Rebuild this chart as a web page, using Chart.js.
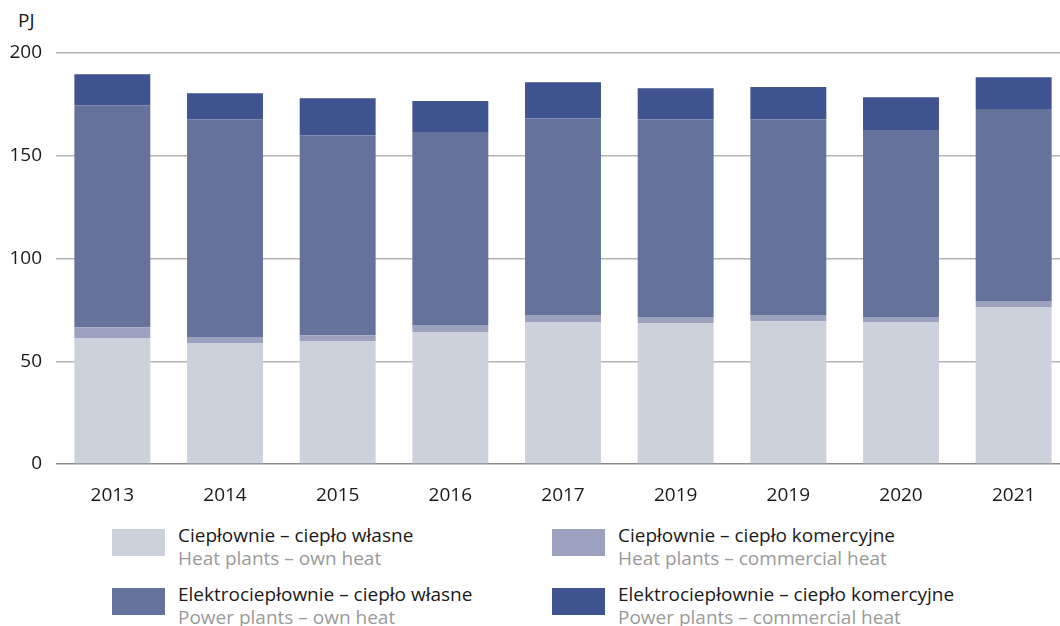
<!DOCTYPE html>
<html>
<head>
<meta charset="utf-8">
<script src="https://cdn.jsdelivr.net/npm/chart.js@4.4.1/dist/chart.umd.min.js"></script>
<style>
	html, body { margin: 0; padding: 0; background: #fff; overflow: hidden; }
	body { width: 1060px; height: 626px; position: relative; font-family: 'Open Sans', sans-serif; }
	#wrap { position: absolute; left: 0; top: 0; width: 1072px; height: 510px; }
	#unit { position: absolute; left: 18px; top: 7px; font-size: 19px; color: #1a1a1a; }
	#legend { position: absolute; left: 112px; top: 529px; display: grid; grid-template-columns: 440px 440px; row-gap: 32px; }
	.item { position: relative; height: 27px; }
	.box { position: absolute; left: 0; top: 0; width: 53px; height: 27px; }
	.txt { position: absolute; left: 66px; top: -5px; white-space: nowrap; font-size: 19px; line-height: 23px; }
	.pl { color: #1a1a1a; }
	.en { color: #9a9a9a; }
</style>
</head>
<body>
<div id="unit">PJ</div>
<div id="wrap"><canvas id="myChart"></canvas></div>
<div id="legend"></div>
<script>
const years = [ '2013', '2014', '2015', '2016', '2017', '2019', '2019', '2020', '2021' ];
const heatOwn = [ 61.3, 58.9, 59.8, 64.2, 69.1, 68.6, 69.6, 69.1, 76.4 ];
const heatCommercial = [ 5.3, 2.9, 2.9, 3.4, 3.4, 2.9, 2.9, 2.4, 2.9 ];
const powerOwn = [ 108.0, 106.0, 97.3, 93.9, 95.8, 96.3, 95.3, 91.0, 93.4 ];
const powerCommercial = [ 15.1, 12.6, 18.0, 15.1, 17.5, 15.1, 15.6, 16.0, 15.5 ];
const yTicks = [ 0, 50, 100, 150, 200 ];

const labelsPl = [
	'Ciepłownie – ciepło własne',
	'Ciepłownie – ciepło komercyjne',
	'Elektrociepłownie – ciepło własne',
	'Elektrociepłownie – ciepło komercyjne'
];
const labelsEn = [
	'Heat plants – own heat',
	'Heat plants – commercial heat',
	'Power plants – own heat',
	'Power plants – commercial heat'
];
const colors = [ '#cdd1dc', '#9ca1bd', '#65729c', '#3e538f' ];
const series = [ heatOwn, heatCommercial, powerOwn, powerCommercial ];

Chart.defaults.font.family = "'Open Sans', sans-serif";
Chart.defaults.font.size = 19;
Chart.defaults.color = '#1a1a1a';

const ctx = document.getElementById('myChart').getContext('2d');

const chart = new Chart(ctx, {
	type: 'bar',
	data: {
		labels: years,
		datasets: series.map((d, i) => ({
			label: labelsPl[i],
			data: d,
			backgroundColor: colors[i],
			borderWidth: 0,
			barPercentage: 0.674,
			categoryPercentage: 1
		}))
	},
	options: {
		responsive: true,
		maintainAspectRatio: false,
		animation: false,
		layout: {
			padding: { top: 53, left: 10, right: 2, bottom: 0 }
		},
		plugins: {
			legend: { display: false },
			tooltip: { enabled: false }
		},
		scales: {
			x: {
				stacked: true,
				grid: { display: false },
				border: { display: false },
				ticks: { padding: 12 },
				afterFit: (scale) => { scale.height = 46; }
			},
			y: {
				stacked: true,
				min: 0,
				max: 200,
				afterBuildTicks: (scale) => { scale.ticks = yTicks.map(v => ({ value: v })); },
				grid: {
					drawTicks: false,
					lineWidth: 1.5,
					color: (c) => c.tick && c.tick.value === 0 ? '#8a8a8a' : '#b4b4b4'
				},
				border: { display: false },
				ticks: { padding: 14 },
				afterFit: (scale) => { scale.width = 46; }
			}
		}
	}
});

// two-line legend, built from the series labels
const legend = document.getElementById('legend');
labelsPl.forEach((pl, i) => {
	const item = document.createElement('div');
	item.className = 'item';
	item.innerHTML = '<div class="box" style="background:' + colors[i] + '"></div>' +
		'<div class="txt"><div class="pl">' + pl + '</div><div class="en">' + labelsEn[i] + '</div></div>';
	legend.appendChild(item);
});
</script>
</body>
</html>
